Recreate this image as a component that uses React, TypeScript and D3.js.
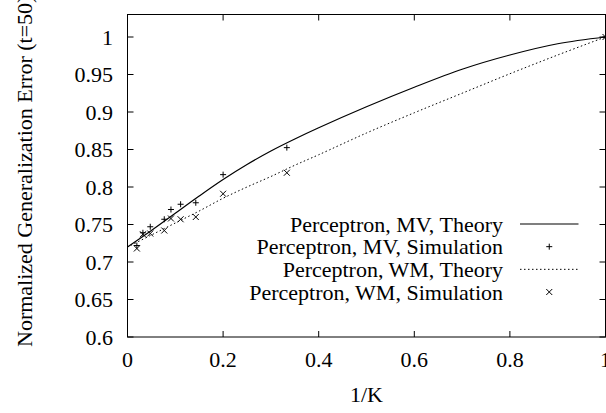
import React, { useEffect, useRef } from 'react';
import * as d3 from 'd3';

// simulation points, K = 51, 31, 21, 13, 11, 9, 7, 5, 3, 1
const simK = [51, 31, 21, 13, 11, 9, 7, 5, 3, 1];
const mvSimulation = [0.722, 0.739, 0.747, 0.757, 0.77, 0.777, 0.779, 0.8165, 0.8525, 1.0];
const wmSimulation = [0.718, 0.737, 0.738, 0.742, 0.758, 0.757, 0.76, 0.791, 0.819, 1.0];

// theory curves
const theoryX = [0, 0.05, 0.1, 0.15, 0.2, 0.25, 0.3, 0.35, 0.4, 0.5, 0.6, 0.7, 0.8, 0.9, 1.0];
const mvTheory = [0.72, 0.742, 0.765, 0.788, 0.81, 0.83, 0.848, 0.864, 0.879, 0.907, 0.933, 0.957, 0.976, 0.991, 1.0];
const wmTheory = [0.72, 0.736, 0.752, 0.768, 0.785, 0.8, 0.814, 0.829, 0.843, 0.872, 0.899, 0.925, 0.951, 0.976, 1.0];

const xTicks = [0, 0.2, 0.4, 0.6, 0.8, 1];
const yTicks = [0.6, 0.65, 0.7, 0.75, 0.8, 0.85, 0.9, 0.95, 1];

const legendLabels = [
  'Perceptron, MV, Theory',
  'Perceptron, MV, Simulation',
  'Perceptron, WM, Theory',
  'Perceptron, WM, Simulation',
];

const W = 606;
const H = 413;
const FONT = '"Liberation Serif", "Times New Roman", serif';

export default function App() {
  const ref = useRef<SVGSVGElement>(null);

  useEffect(() => {
    const svg = d3.select(ref.current);
    svg.selectAll('*').remove();

    const left = 127.5;
    const right = 605.5;
    const top = 14.5;
    const bottom = 337;

    const x = d3.scaleLinear().domain([0, 1]).range([left, right]);
    const y = d3.scaleLinear().domain([0.6, 1.03]).range([bottom, top]);

    const g = svg.append('g').attr('font-family', FONT).attr('font-size', 22).attr('fill', '#000');

    // ticks, mirrored on all sides, pointing inwards
    const tickLen = 6;
    xTicks.forEach((t) => {
      g.append('line')
        .attr('x1', x(t)).attr('x2', x(t))
        .attr('y1', bottom).attr('y2', bottom - tickLen)
        .attr('stroke', '#000');
      g.append('line')
        .attr('x1', x(t)).attr('x2', x(t))
        .attr('y1', top).attr('y2', top + tickLen)
        .attr('stroke', '#000');
      g.append('text')
        .attr('x', x(t))
        .attr('y', 366.5)
        .attr('text-anchor', 'middle')
        .text(d3.format('~g')(t));
    });
    yTicks.forEach((t) => {
      g.append('line')
        .attr('x1', left).attr('x2', left + tickLen)
        .attr('y1', y(t)).attr('y2', y(t))
        .attr('stroke', '#000');
      g.append('line')
        .attr('x1', right).attr('x2', right - tickLen)
        .attr('y1', y(t)).attr('y2', y(t))
        .attr('stroke', '#000');
      g.append('text')
        .attr('x', 113)
        .attr('y', y(t) + 7.5)
        .attr('text-anchor', 'end')
        .text(d3.format('~g')(t));
    });

    g.append('rect')
      .attr('x', left)
      .attr('y', top)
      .attr('width', right - left)
      .attr('height', bottom - top)
      .attr('fill', 'none')
      .attr('stroke', '#000');

    g.append('text')
      .attr('x', (left + right) / 2)
      .attr('y', 401.5)
      .attr('text-anchor', 'middle')
      .text('1/K');

    g.append('text')
      .attr('transform', `translate(31.5, 347) rotate(-90)`)
      .attr('text-anchor', 'start')
      .text('Normalized Generalization Error (t=50)');

    const line = d3
      .line<number>()
      .x((_, i) => x(theoryX[i]))
      .y((d) => y(d))
      .curve(d3.curveCatmullRom);

    g.append('path')
      .attr('d', line(mvTheory))
      .attr('fill', 'none')
      .attr('stroke', '#000')
      .attr('stroke-width', 1.2);

    g.append('path')
      .attr('d', line(wmTheory))
      .attr('fill', 'none')
      .attr('stroke', '#000')
      .attr('stroke-width', 1)
      .attr('stroke-dasharray', '1.5,2.5');

    const s = 3;
    const plus = (cx: number, cy: number) =>
      `M${cx - s},${cy}H${cx + s}M${cx},${cy - s}V${cy + s}`;
    const cross = (cx: number, cy: number) =>
      `M${cx - s},${cy - s}L${cx + s},${cy + s}M${cx - s},${cy + s}L${cx + s},${cy - s}`;

    g.append('path')
      .attr('d', mvSimulation.map((v, i) => plus(x(1 / simK[i]), y(v))).join(''))
      .attr('fill', 'none')
      .attr('stroke', '#000');
    g.append('path')
      .attr('d', wmSimulation.map((v, i) => cross(x(1 / simK[i]), y(v))).join(''))
      .attr('fill', 'none')
      .attr('stroke', '#000');

    // legend
    const legendY0 = 224;
    const legendStep = 22.67;
    const sampleX1 = 520;
    const sampleX2 = 578.5;
    legendLabels.forEach((label, i) => {
      const ly = legendY0 + i * legendStep;
      g.append('text')
        .attr('x', 503)
        .attr('y', ly + 7.8)
        .attr('text-anchor', 'end')
        .text(label);
      const mx = (sampleX1 + sampleX2) / 2;
      if (i === 0 || i === 2) {
        g.append('line')
          .attr('x1', sampleX1).attr('x2', sampleX2)
          .attr('y1', ly).attr('y2', ly)
          .attr('stroke', '#000')
          .attr('stroke-width', i === 0 ? 1.2 : 1)
          .attr('stroke-dasharray', i === 0 ? null : '1.5,2.5');
      } else {
        g.append('path')
          .attr('d', i === 1 ? plus(mx, ly) : cross(mx, ly))
          .attr('fill', 'none')
          .attr('stroke', '#000');
      }
    });
  }, []);

  return (
    <svg
      ref={ref}
      width={W}
      height={H}
      style={{ position: 'absolute', left: 0, top: 0, background: '#fff' }}
    />
  );
}
